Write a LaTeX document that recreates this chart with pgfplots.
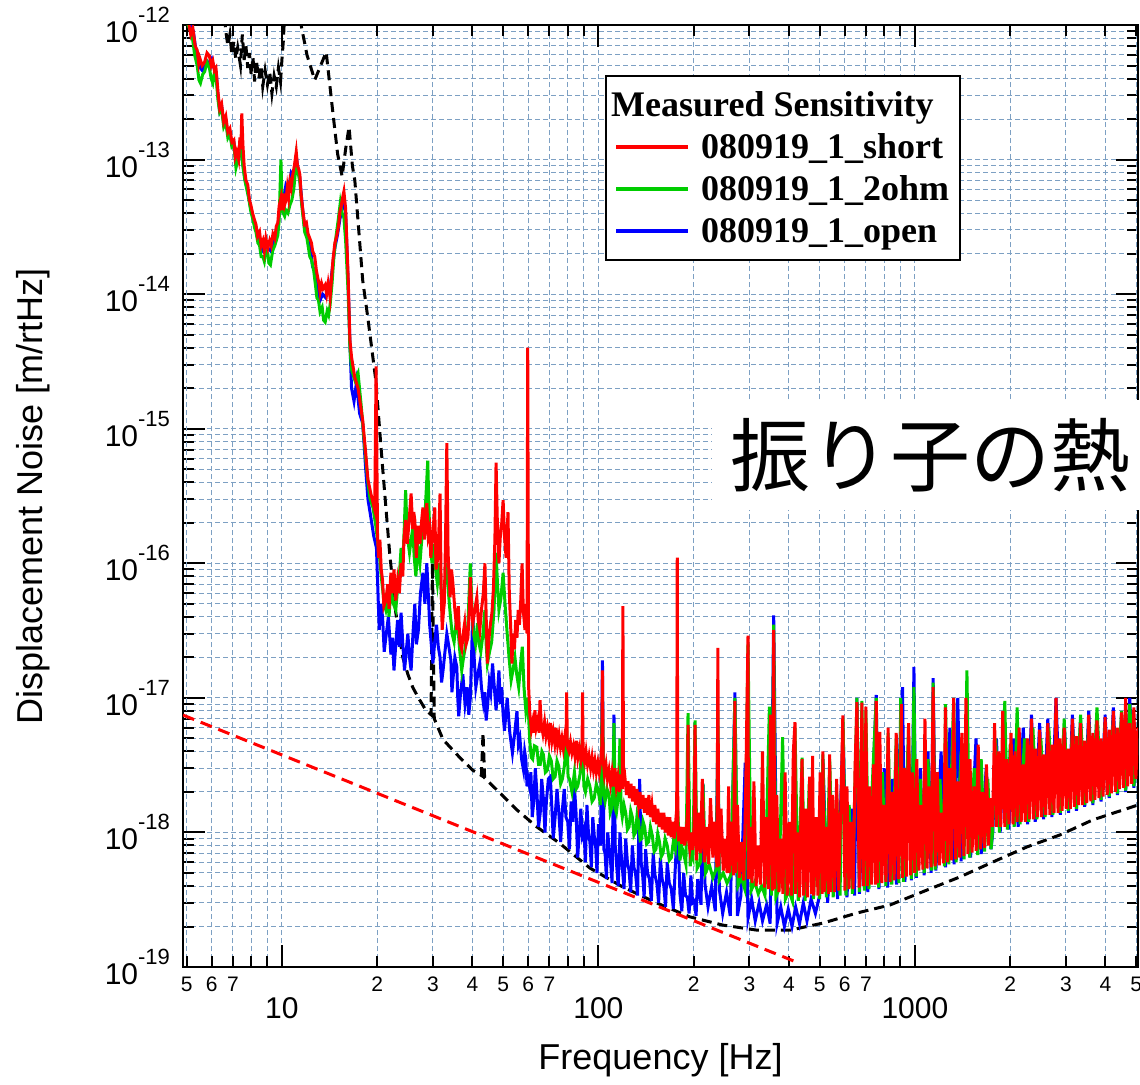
\documentclass[border=0pt]{standalone}
\usepackage{fontspec}
\setmainfont{Liberation Sans}
\newfontfamily\legfont{Liberation Serif}
\newfontfamily\jpfont{Noto Sans CJK JP}
\usepackage{pgfplots}
\pgfplotsset{compat=1.18}
\definecolor{gridc}{RGB}{125,160,195}
\definecolor{mgreen}{RGB}{0,205,0}
\newcommand{\ylab}[1]{10\raisebox{10pt}{\fontsize{11}{11}\selectfont #1}}
\begin{document}
\begin{tikzpicture}
\begin{axis}[
 xmode=log, ymode=log,
 scale only axis, width=477.5pt, height=471pt,
 xmin=4.87, xmax=5070, ymin=1e-19, ymax=1e-12,
 axis line style={line width=1pt},
 tick style={black, line width=1pt},
 major tick length=11pt, minor tick length=5.5pt,
 xtick={10,100,1000}, xticklabels={10,100,1000},
 minor xtick={6,7,8,9,20,30,40,50,60,70,80,90,200,300,400,500,600,700,800,900,2000,3000,4000,5000},
 extra x ticks={5,6,7,20,30,40,50,60,70,200,300,400,500,600,700,2000,3000,4000,5000},
 extra x tick labels={5,6,7,2,3,4,5,6,7,2,3,4,5,6,7,2,3,4,5},
 extra x tick style={major tick length=5.5pt, xticklabel style={font=\fontsize{10.5}{10.5}\selectfont, yshift=10.2pt}},
 ytick={1e-19,1e-18,1e-17,1e-16,1e-15,1e-14,1e-13,1e-12},
 yticklabels={\ylab{-19},\ylab{-18},\ylab{-17},\ylab{-16},\ylab{-15},\ylab{-14},\ylab{-13},\ylab{-12}},
 minor ytick={2e-19,3e-19,4e-19,5e-19,6e-19,7e-19,8e-19,9e-19,2e-18,3e-18,4e-18,5e-18,6e-18,7e-18,8e-18,9e-18,2e-17,3e-17,4e-17,5e-17,6e-17,7e-17,8e-17,9e-17,2e-16,3e-16,4e-16,5e-16,6e-16,7e-16,8e-16,9e-16,2e-15,3e-15,4e-15,5e-15,6e-15,7e-15,8e-15,9e-15,2e-14,3e-14,4e-14,5e-14,6e-14,7e-14,8e-14,9e-14,2e-13,3e-13,4e-13,5e-13,6e-13,7e-13,8e-13,9e-13},
 xticklabel style={font=\fontsize{15}{15}\selectfont, yshift=-11.5pt},
 yticklabel style={font=\fontsize{15}{15}\selectfont, xshift=-3pt},
 grid=both,
 major grid style={gridc, line width=0.5pt, dash pattern=on 2.5pt off 1.5pt},
 minor grid style={gridc, line width=0.5pt, dash pattern=on 2.5pt off 1.5pt},
 xlabel={Frequency [Hz]}, ylabel={Displacement Noise [m/rtHz]},
 xlabel style={at={(axis description cs:0.5,-0.0987)}, anchor=center, font=\fontsize{18}{18}\selectfont},
 ylabel style={at={(axis description cs:-0.157,0.5)}, anchor=center, font=\fontsize{18}{18}\selectfont},
 legend image code/.code={\draw[#1] (0pt,0pt) -- (36pt,0pt);},
 legend cell align=left,
 legend style={at={(axis description cs:0.4419,0.9469)}, anchor=north west, draw=black, line width=1.2pt, fill=white, inner xsep=4pt, inner ysep=4pt, row sep=0pt, column sep=4pt, font=\legfont\bfseries\fontsize{18}{18}\selectfont, nodes={inner sep=1.5pt, text height=14.5pt, text depth=3.5pt}},
]
\addlegendimage{empty legend}
\addlegendentry{\makebox[0pt][l]{\hspace*{-45pt}Measured Sensitivity}}
\addlegendimage{red, line width=2pt}
\addlegendentry{080919\_1\_short}
\addlegendimage{mgreen, line width=2pt}
\addlegendentry{080919\_1\_2ohm}
\addlegendimage{blue, line width=2pt}
\addlegendentry{080919\_1\_open}

% black dashed
\addplot[forget plot, black, line width=1.5pt, dash pattern=on 5pt off 3pt] coordinates {
(6.5,1.5e-12) (6.65,9e-13) (6.75,7e-13) (6.85,8.5e-13) (6.95,6.0e-13) (7.05,7.5e-13) (7.15,5.6e-13) (7.25,6.8e-13) (7.4,5.0e-13) (7.5,8.5e-13) (7.6,5.5e-13) (7.7,7.0e-13) (7.8,4.8e-13) (7.9,6.2e-13) (8.0,4.2e-13) (8.1,5.8e-13) (8.2,3.8e-13) (8.3,5.5e-13) (8.45,4.0e-13) (8.6,5.0e-13) (8.7,3.5e-13) (8.85,4.6e-13) (9.0,3.6e-13) (9.15,4.5e-13) (9.3,3.1e-13) (9.45,4.2e-13) (9.6,3.5e-13) (9.75,4.8e-13) (9.9,3.8e-13) (10.0,5.5e-13) (10.1,7.5e-13) (10.25,1.5e-12)
(11.3,1.5e-12) (11.5,1.0e-12) (12.0,6.0e-13) (12.7,3.9e-13) (13.8,6.3e-13) (14.5,2.2e-13) (15.0,1.1e-13) (15.5,7.5e-14) (15.9,1.2e-13) (16.3,1.75e-13) (16.7,9e-14) (17.0,7e-14) (18.0,1.27e-14) (18.7,6.6e-15) (19.8,2.3e-15) (20.8,5.2e-16) (21.9,1.19e-16) (22.9,4.3e-17) (24.1,2.0e-17) (25.0,1.5e-17) (25.9,1.2e-17) (27.0,1.0e-17) (28.5,8.1e-18) (29.6,7.5e-18) (29.9,1.0e-16) (30.3,7.0e-18) (32.3,4.9e-18) (36.5,3.6e-18) (40.1,2.9e-18) (42.7,2.65e-18) (43.2,5.5e-18) (43.7,2.55e-18) (45.4,2.33e-18) (55.3,1.47e-18) (63.9,1.10e-18) (75.5,8.3e-19) (94.0,5.44e-19) (119.5,3.93e-19) (153,2.99e-19) (194.5,2.36e-19) (247,2.05e-19) (317,1.88e-19) (403,1.88e-19) (512,2.12e-19) (656,2.52e-19) (834,2.89e-19) (1091,3.73e-19) (1387,4.67e-19) (1763,6.03e-19) (2258,7.8e-19) (2871,9.58e-19) (3648,1.24e-18) (5070,1.6e-18)
};
% red dashed
\addplot[forget plot, red, line width=1.5pt, dash pattern=on 6pt off 3.5pt] coordinates {(4.87,7.45e-18) (430,1.07e-19)};

% blue
\addplot[forget plot, blue, line width=1.5pt] coordinates {
(4.87,1.3e-12) (5.1,1.05e-12) (5.25,9.0e-13) (5.35,6.5e-13) (5.45,5.5e-13) (5.52,4.8e-13) (5.6,4.6e-13) (5.7,5.0e-13) (5.8,5.4e-13) (5.9,5.2e-13) (6.0,5.6e-13) (6.1,4.8e-13) (6.2,4.5e-13) (6.28,3.0e-13) (6.36,2.3e-13) (6.45,2.5e-13) (6.55,1.85e-13) (6.65,1.95e-13) (6.75,1.55e-13) (6.85,1.6e-13) (6.95,1.3e-13) (7.05,1.35e-13) (7.16,1.0e-13) (7.28,1.1e-13) (7.4,1.2e-13) (7.5,1.0e-13) (7.64,7.2e-14) (7.8,5.8e-14) (7.98,4.3e-14) (8.1,3.7e-14) (8.28,3.1e-14) (8.4,2.6e-14) (8.5,2.5e-14) (8.6,2.2e-14) (8.71,2.1e-14) (8.85,2.3e-14) (9.03,2.2e-14) (9.2,2.1e-14) (9.37,2.4e-14) (9.55,2.7e-14) (9.71,3.2e-14) (9.82,4.0e-14) (9.93,4.8e-14) (10.1,5.0e-14) (10.3,6.5e-14) (10.5,6.0e-14) (10.7,8.0e-14) (10.9,7.5e-14) (11.1,1.05e-13) (11.25,8.5e-14) (11.4,7.2e-14) (11.6,4.5e-14) (11.8,3.1e-14) (12.0,2.7e-14) (12.25,2.3e-14) (12.4,1.9e-14) (12.5,1.6e-14) (12.7,1.5e-14) (12.9,1.3e-14) (13.05,1.0e-14) (13.2,9.0e-15) (13.45,1.0e-14) (13.7,9.5e-15) (13.95,1.05e-14) (14.2,1.1e-14) (14.45,1.6e-14) (14.7,2.2e-14) (15.0,2.8e-14) (15.25,3.6e-14) (15.5,4.4e-14) (15.7,5.0e-14) (15.9,4.0e-14) (16.2,1.2e-14) (16.4,4.4e-15) (16.6,2.0e-15) (16.9,1.6e-15) (17.2,2.2e-15) (17.6,1.3e-15) (18.0,1.1e-15) (18.4,5.0e-16) (18.7,3.0e-16) (19.1,2.2e-16) (19.5,1.6e-16) (19.9,1.3e-16)
(20.3,3.2e-17) (20.55,5.0e-17) (20.8,4.0e-17) (21.05,2.2e-17) (21.3,2.8e-17) (21.7,4.0e-17) (22.1,2.1e-17) (22.35,2.8e-17) (22.6,1.6e-17) (22.9,2.5e-17) (23.2,3.8e-17) (23.5,2.4e-17) (23.8,4.3e-17) (24.1,2.5e-17) (24.4,1.6e-17) (24.7,2.2e-17) (25.0,3.0e-17) (25.3,2.0e-17) (25.6,1.6e-17) (25.95,3.0e-17) (26.3,5.0e-17) (26.6,2.5e-17) (27.0,3.2e-17) (27.4,6.0e-17) (27.9,8.5e-17) (28.3,5.0e-17) (28.7,1.0e-16) (29.0,6.0e-17) (29.3,3.5e-17) (29.65,2.5e-17) (30.0,1.8e-17) (30.4,2.6e-17) (30.8,3.5e-17) (31.2,2.4e-17) (31.6,2.0e-17) (31.95,1.3e-17) (32.3,1.6e-17) (32.75,2.2e-17) (33.2,3.0e-17) (33.7,2.4e-17) (34.2,1.9e-17) (34.45,1.1e-17) (34.7,1.35e-17) (35.2,2.0e-17) (35.7,1.7e-17) (35.95,1.0e-17) (36.2,7.3e-18) (36.7,1.1e-17) (37.3,1.5e-17) (37.9,9.0e-18) (38.5,1.2e-17) (38.95,7.5e-18) (39.4,1.0e-17) (39.75,2.0e-17) (40.1,4.5e-17) (40.5,2.0e-17) (41.0,1.2e-17) (41.6,1.5e-17) (42.2,1.8e-17) (42.7,1.2e-17) (43.3,9.2e-18) (43.75,1.1e-17) (44.2,6.8e-18) (44.7,9.0e-18) (45.2,1.3e-17) (45.7,1.1e-17) (46.3,1.8e-17) (46.9,1.2e-17) (47.5,8.1e-18) (48.0,1.1e-17) (48.5,1.6e-17) (49.0,9.0e-18) (49.5,1.2e-17) (50.0,7.5e-18) (50.5,5.7e-18) (51.0,7.5e-18) (51.5,1.0e-17) (52.5,5.5e-18) (53.5,3.9e-18) (54.4,5.5e-18) (55.3,8.0e-18) (55.9,4.5e-18) (56.5,5.0e-18) (57.2,3.5e-18) (58.0,2.9e-18) (58.5,4.0e-18) (59.0,3.5e-18) (59.5,2.2e-18) (60.0,2.5e-18)
(60.6,2.2e-18) (61.2,2.8e-18) (61.8,1.3e-18) (62.5,1.7e-18) (63.2,3.0e-18) (64,1.9e-18) (64.7,1.1e-18) (65.5,1.4e-18) (66.2,2.5e-18) (67,1.8e-18) (67.8,1.0e-18) (68.5,1.7e-18) (69.5,2.5e-18) (70.5,2.6e-18) (71.3,1.5e-18) (72,9.0e-19) (73,1.3e-18) (74,2.1e-18) (75,1.4e-18) (76,8.5e-19) (77,1.5e-18) (78,2.1e-18) (79,1.3e-18) (80,1.2e-18) (81,7.5e-19) (82,1.7e-18) (83,1.2e-18) (84,2.2e-18) (85,1.4e-18) (86,6.5e-19) (87,1.0e-18) (88,1.5e-18) (89,9.5e-19) (90,1.05e-18) (91,6.0e-19) (92,1.6e-18) (93,1.0e-18) (94,8.5e-19) (95,5.5e-19) (96,1.3e-18) (97,9.5e-19) (98,8.0e-19) (99,5.0e-19) (100,1.15e-18)
(101.5,8.0e-19) (103,1.9e-17) (104,7.5e-19) (105,7.0e-19) (106,4.5e-19) (107,1.0e-18) (108,8.0e-19) (109,6.5e-19) (110.5,4.2e-19) (112,7.5e-18) (113,8.0e-19) (114,6.0e-19) (115.5,4.0e-19) (117,1.0e-18) (118,7.0e-19) (119,5.5e-19) (120.5,3.8e-19) (122,9.0e-19) (123.5,6.0e-19) (125,5.2e-19) (126.5,3.6e-19) (128,8.0e-19) (129.5,5.5e-19) (131,5.0e-19) (133,3.4e-19) (135,2.5e-18) (136.5,6.0e-19) (138,4.8e-19) (139.5,3.3e-19) (141,7.5e-19) (143,5.0e-19) (145,4.5e-19) (147,3.1e-19) (149,7.0e-19) (151,4.8e-19) (153,4.2e-19) (155,3.0e-19) (157,6.5e-19) (159,4.5e-19) (161,4.0e-19) (163,2.8e-19) (165,6.0e-19) (167.5,4.2e-19) (170,3.8e-19) (172.5,2.7e-19) (175,5.5e-19) (178,1.2e-18) (181,3.5e-19) (183.5,2.6e-19) (186,5.0e-19) (188.5,3.4e-19) (191,3.3e-19) (193.5,2.5e-19) (196,4.8e-19) (198.5,3.0e-19) (201,3.1e-19) (203.5,2.4e-19) (206,4.5e-19)
(211,2.9e-19) (214,2.3e-18) (217,4.2e-19) (222,2.8e-19) (228,4.0e-19) (234,2.6e-19) (238.5,5e-18) (241,3.8e-19) (247,2.5e-19) (254,3.6e-19) (261,2.4e-19) (270,1.1e-17) (275,2.4e-19) (282,3.4e-19) (291,3.3e-18) (297,2.3e-19) (305,3.2e-19) (313,2.2e-19) (322,3.0e-19) (330,2.2e-19) (340,2.9e-19) (349,2.1e-19) (358,4.1e-17) (367,2.1e-19) (377,2.8e-19) (387,2.0e-19) (398,2.7e-19) (409,2.0e-19) (420,2.8e-19) (432,2.1e-19) (444,3.0e-19) (456,2.2e-19) (470,3.2e-19) (485,2.5e-19) (500,3.4e-19)
(512,3.5e-18) (530,3.0e-19) (550,1.5e-18) (570,3.2e-19) (593,6.0e-18) (610,3.3e-19) (630,1.5e-18) (645,3.4e-19) (656,1.0e-17) (668,3.5e-19) (690,2.5e-18) (710,3.6e-19) (735,2.0e-18) (755,1.05e-17) (770,3.8e-19) (800,3.0e-18) (820,3.9e-19) (850,2.5e-18) (875,4.1e-19) (895,4.0e-18) (914,1.2e-17) (930,4.3e-19) (960,3.0e-18) (975,4.4e-19) (993,1.7e-17) (1010,4.6e-19) (1040,3.0e-18) (1070,4.8e-19) (1100,4.0e-18) (1125,5.0e-19) (1142,1.4e-17) (1165,5.2e-19) (1210,4.0e-18) (1250,5.5e-19) (1290,6.0e-18) (1330,5.8e-19) (1366,1.0e-17) (1400,6.1e-19) (1450,4.0e-18) (1500,6.5e-19) (1560,5.0e-18) (1620,6.9e-19) (1680,3.0e-18) (1740,7.5e-19) (1762,1.0e-18) (1810,5.0e-18) (1860,1.0e-18) (1920,6.0e-18) (1980,1.05e-18) (2050,5.0e-18) (2120,1.1e-18) (2200,6.0e-18) (2270,1.15e-18) (2335,7.5e-18) (2400,1.2e-18) (2478,6.5e-18) (2550,1.25e-18) (2630,7.0e-18) (2710,1.3e-18) (2792,1.0e-17) (2880,1.35e-18) (2970,6.0e-18) (3060,1.4e-18) (3145,7.5e-18) (3240,1.45e-18) (3338,6.8e-18) (3440,1.55e-18) (3543,8.0e-18) (3650,1.6e-18) (3761,7.5e-18) (3874,1.7e-18) (3991,7.5e-18) (4112,1.8e-18) (4237,8.5e-18) (4365,1.9e-18) (4497,7.5e-18) (4633,2.0e-18) (4773,1.0e-17) (4917,2.15e-18) (5066,5.0e-18)
};

% green
\addplot[forget plot, mgreen, line width=1.5pt] coordinates {
(4.87,1.2e-12) (5.05,1.0e-12) (5.2,8.5e-13) (5.3,6.0e-13) (5.4,5.0e-13) (5.47,3.9e-13) (5.53,3.7e-13) (5.62,4.3e-13) (5.7,4.5e-13) (5.8,5.3e-13) (5.9,4.8e-13) (5.98,4.0e-13) (6.05,3.7e-13) (6.12,4.4e-13) (6.19,4.2e-13) (6.28,2.8e-13) (6.36,2.25e-13) (6.45,2.4e-13) (6.55,1.75e-13) (6.65,1.9e-13) (6.75,1.45e-13) (6.85,1.55e-13) (6.95,1.25e-13) (7.05,1.3e-13) (7.16,8.7e-14) (7.26,1.0e-13) (7.37,1.2e-13) (7.45,1.1e-13) (7.55,8.5e-14) (7.64,7.0e-14) (7.75,6.0e-14) (7.85,5.2e-14) (7.98,4.1e-14) (8.1,3.6e-14) (8.2,3.1e-14) (8.28,2.9e-14) (8.4,2.4e-14) (8.5,2.3e-14) (8.6,1.9e-14) (8.71,1.9e-14) (8.8,1.75e-14) (8.9,2.1e-14) (9.03,2.0e-14) (9.1,1.7e-14) (9.2,1.65e-14) (9.35,2.1e-14) (9.5,2.3e-14) (9.6,2.5e-14) (9.71,2.75e-14) (9.8,3.5e-14) (9.93,1.0e-13) (10.0,5.5e-14) (10.05,4.1e-14) (10.2,3.8e-14) (10.3,4.2e-14) (10.45,4.0e-14) (10.6,4.6e-14) (10.75,5.0e-14) (10.9,6.0e-14) (11.0,7.5e-14) (11.1,1.0e-13) (11.25,8.0e-14) (11.4,6.8e-14) (11.55,4.6e-14) (11.7,3.5e-14) (11.8,2.9e-14) (12.0,2.6e-14) (12.25,1.9e-14) (12.4,1.8e-14) (12.6,1.5e-14) (12.75,1.2e-14) (12.9,9.4e-15) (13.05,9.0e-15) (13.2,7.4e-15) (13.4,8.0e-15) (13.55,6.4e-15) (13.7,6.2e-15) (13.9,7.5e-15) (14.05,7.0e-15) (14.2,8.3e-15) (14.4,1.2e-14) (14.6,1.9e-14) (14.8,2.6e-14) (15.05,3.5e-14) (15.3,4.8e-14) (15.5,4.0e-14) (15.7,3.7e-14) (15.9,2.5e-14) (16.2,1.0e-14) (16.4,4.0e-15) (16.6,2.75e-15) (17.0,2.3e-15) (17.4,2.6e-15) (17.8,1.5e-15) (18.4,6.0e-16) (18.7,4.0e-16) (19.0,3.0e-16) (19.4,2.6e-16) (19.8,1.9e-16)
(20.4,1.06e-16) (20.6,8.0e-17) (20.8,6.5e-17) (21.05,5.0e-17) (21.3,4.5e-17) (21.6,5.5e-17) (21.8,4.0e-17) (22.1,6.5e-17) (22.5,5.0e-17) (22.9,4.5e-17) (23.2,6.5e-17) (23.5,8.0e-17) (23.8,1.3e-16) (24.1,1.0e-16) (24.35,1.8e-16) (24.6,3.5e-16) (24.9,1.6e-16) (25.3,1.2e-16) (25.6,1.5e-16) (25.9,1.8e-16) (26.2,1.1e-16) (26.5,8e-17) (26.9,1.3e-16) (27.3,1.0e-16) (27.6,1.4e-16) (28.0,2.0e-16) (28.4,2.6e-16) (28.9,5.8e-16) (29.15,2.5e-16) (29.4,1.5e-16) (29.8,1.0e-16) (30.2,1.4e-16) (30.6,9.0e-17) (31.0,7e-17) (31.5,1.0e-16) (32.0,5e-17) (32.6,6.5e-17) (33.2,1.0e-16) (33.6,6.0e-17) (34.0,4.3e-17) (34.5,3.0e-17) (35.0,2.6e-17) (35.5,3.6e-17) (36.0,3.3e-17) (36.5,2.2e-17) (37.0,1.6e-17) (37.5,2.0e-17) (38.0,2.4e-17) (38.7,3.5e-17) (39.4,1.0e-16) (39.9,4.5e-17) (40.3,3e-17) (40.9,2.5e-17) (41.5,3.6e-17) (42.0,2.5e-17) (42.5,2.2e-17) (43.2,3.0e-17) (43.8,4.5e-17) (44.2,2.5e-17) (44.6,1.8e-17) (45.3,2.2e-17) (46.0,2.6e-17) (46.8,4.5e-17) (47.5,1.2e-16) (48.0,7.0e-17) (48.5,4.5e-17) (49.2,5.5e-17) (50.0,8.5e-17) (50.7,5.0e-17) (51.5,3.0e-17) (52.2,2.0e-17) (53.0,1.35e-17) (53.7,1.6e-17) (54.5,2.0e-17) (55.2,1.5e-17) (56.0,1.2e-17) (56.8,1.8e-17) (57.5,2.4e-17) (58.2,1.2e-17) (59.0,8e-18) (59.8,1.0e-17)
(60.7,4.8e-18) (61.4,3.6e-18) (62,3.5e-18) (62.8,4.4e-18) (63.9,4.3e-18) (64.7,3.2e-18) (65.5,3.2e-18) (66.3,4.0e-18) (67,3.8e-18) (68,2.8e-18) (69,2.9e-18) (70,3.7e-18) (71,3.4e-18) (72,2.5e-18) (73,2.6e-18) (74,3.4e-18) (75,3.1e-18) (76,2.3e-18) (77,2.5e-18) (78.2,3.2e-18) (79.4,6.0e-18) (80.2,2.6e-18) (81,2.5e-18) (82.5,2.0e-18) (84,2.8e-18) (85,2.1e-18) (86,2.2e-18) (87.5,2.7e-18) (89,5.0e-18) (90,2.2e-18) (91,2.0e-18) (92.5,2.5e-18) (94,2.2e-18) (95.5,1.7e-18) (97,1.8e-18) (98.5,2.3e-18) (100,2.0e-18) (101.5,1.6e-18) (103,1.0e-17) (104,1.9e-18) (105,1.7e-18) (106.5,2.1e-18) (108,1.9e-18) (109,1.4e-18) (110,1.5e-18) (111,1.9e-18) (112,6.5e-18) (113,1.5e-18) (114,1.4e-18) (115.5,1.8e-18) (117,5.0e-18) (118,1.5e-18) (119,1.3e-18) (120.5,1.6e-18) (122,1.4e-18) (123.5,1.05e-18) (125,1.1e-18) (126.5,1.45e-18) (128,1.3e-18) (129.5,9.5e-19) (131,1.0e-18) (132.5,1.35e-18) (134,1.2e-18) (135.5,8.8e-19) (137,9.0e-19) (138.5,1.2e-18) (140,1.1e-18) (142,8.2e-19) (144,8.5e-19) (146,1.1e-18) (148,9.5e-19) (150,7.2e-19) (152,7.5e-19) (154,9.8e-19) (156,8.5e-19) (158,6.6e-19) (160,7.0e-19) (162.5,9.0e-19) (165,8.0e-19) (167.5,6.2e-19) (170,6.5e-19) (172.5,8.5e-19) (175,7.5e-19) (178,1.5e-18) (181,6.2e-19) (183.5,7.8e-19) (186,7.0e-19) (189,5.8e-19) (192,7.7e-18) (195,5.6e-19) (197,7.0e-19) (199,6.5e-19) (202,6.8e-18) (205,5.4e-19)
(210,6.0e-19) (214,2.3e-18) (218,5.0e-19) (224,5.8e-19) (230,4.6e-19) (236,5.4e-19) (238.5,8e-18) (241,4.4e-19) (248,5.0e-19) (255,4.2e-19) (262,4.8e-19) (270,1.0e-17) (276,4.0e-19) (283,4.6e-19) (290,3.8e-19) (297,2.5e-17) (304,3.7e-19) (312,4.3e-19) (320,3.5e-19) (328,4.0e-19) (336,3.4e-19) (347,8.6e-18) (352,3.4e-19) (358,3.5e-17) (364,3.3e-19) (372,3.8e-19) (382,5.1e-18) (390,3.2e-19) (400,3.7e-19) (410,3.1e-19) (418,6.0e-18) (428,3.1e-19) (440,3.6e-18) (450,3.1e-19) (464,2.4e-18) (478,3.2e-19) (490,1.2e-18) (500,3.2e-19) (512,3.8e-18) (525,3.3e-19) (538,3.5e-18) (552,3.3e-19) (566,2.0e-18) (580,3.4e-19) (593,7.0e-18) (606,3.4e-19) (620,1.6e-18) (635,3.5e-19) (656,1.0e-17) (668,3.6e-19) (680,9.5e-18) (692,3.7e-19) (700,8.0e-18) (716,3.8e-19) (735,2.5e-18) (755,1.0e-17) (768,3.9e-19) (790,2.8e-18) (810,4.0e-19) (823,5.5e-18) (845,4.1e-19) (873,5.0e-18) (890,4.2e-19) (902,1.0e-17) (920,4.3e-19) (955,6.0e-18) (975,4.5e-19) (993,1.2e-17) (1010,4.7e-19)
(1040,2.5e-18) (1070,5.0e-19) (1100,3.5e-18) (1130,5.2e-19) (1142,1.3e-17) (1160,5.3e-19) (1200,2.5e-18) (1240,5.6e-19) (1249,9e-18) (1280,5.8e-19) (1326,1.0e-17) (1350,6.0e-19) (1400,4.0e-18) (1430,6.3e-19) (1460,1.6e-17) (1490,6.5e-19) (1540,3.0e-18) (1580,6.8e-19) (1620,3.5e-18) (1660,7.2e-19) (1700,2.5e-18) (1740,7.5e-19) (1759,1.0e-18) (1800,5.0e-18) (1850,1.0e-18) (1924,9.5e-18) (1960,1.05e-18) (2000,4.5e-18) (2060,1.1e-18) (2104,8.5e-18) (2150,1.15e-18) (2220,5.0e-18) (2290,1.2e-18) (2360,6.0e-18) (2430,1.25e-18) (2500,5.0e-18) (2580,1.3e-18) (2650,6.0e-18) (2730,1.35e-18) (2800,5.0e-18) (2880,1.4e-18) (2963,7.0e-18) (3050,1.45e-18) (3150,6.0e-18) (3240,1.5e-18) (3338,7.5e-18) (3440,1.6e-18) (3543,6.5e-18) (3650,1.65e-18) (3761,8.5e-18) (3874,1.75e-18) (3991,6.5e-18) (4112,1.85e-18) (4237,7.0e-18) (4365,1.95e-18) (4497,8.0e-18) (4633,2.05e-18) (4773,9.0e-18) (4917,2.2e-18) (5066,5.0e-18)
};

% red
\addplot[forget plot, red, line width=1.5pt] coordinates {
(4.87,1.3e-12) (5.05,1.1e-12) (5.15,8.5e-13) (5.23,9.5e-13) (5.32,7.0e-13) (5.40,6.5e-13) (5.46,5.2e-13) (5.50,5.7e-13) (5.60,5.0e-13) (5.70,5.3e-13) (5.80,6.2e-13) (5.90,5.9e-13) (5.98,5.0e-13) (6.05,5.4e-13) (6.12,4.6e-13) (6.19,4.8e-13) (6.28,3.2e-13) (6.36,2.4e-13) (6.45,2.6e-13) (6.55,1.9e-13) (6.65,2.1e-13) (6.75,1.6e-13) (6.85,1.7e-13) (6.95,1.35e-13) (7.05,1.4e-13) (7.12,1.05e-13) (7.2,1.15e-13) (7.3,1.0e-13) (7.37,1.46e-13) (7.42,1.2e-13) (7.47,2.2e-13) (7.53,1.3e-13) (7.6,9.0e-14) (7.7,7.0e-14) (7.8,6.5e-14) (7.9,5.0e-14) (7.98,4.6e-14) (8.08,4.0e-14) (8.18,3.6e-14) (8.28,3.3e-14) (8.38,2.7e-14) (8.5,2.9e-14) (8.6,2.3e-14) (8.71,2.5e-14) (8.8,2.1e-14) (8.9,2.6e-14) (9.03,2.2e-14) (9.15,2.5e-14) (9.25,2.3e-14) (9.37,2.8e-14) (9.5,2.6e-14) (9.6,3.2e-14) (9.71,3.4e-14) (9.8,4.5e-14) (9.93,5.2e-14) (10.0,4.2e-14) (10.1,5.6e-14) (10.2,4.6e-14) (10.3,5.0e-14) (10.4,6.2e-14) (10.5,5.2e-14) (10.6,6.8e-14) (10.7,6.2e-14) (10.8,7.5e-14) (10.95,9.0e-14) (11.1,1.14e-13) (11.2,9.0e-14) (11.3,8.5e-14) (11.4,7.7e-14) (11.5,5.5e-14) (11.65,4.2e-14) (11.8,3.3e-14) (11.95,3.4e-14) (12.1,2.8e-14) (12.25,2.6e-14) (12.4,2.4e-14) (12.5,2.1e-14) (12.7,1.9e-14) (12.85,1.5e-14) (13.0,1.3e-14) (13.1,1.2e-14) (13.2,1.04e-14) (13.35,1.2e-14) (13.5,1.1e-14) (13.7,1.17e-14) (13.85,1.0e-14) (14.0,1.2e-14) (14.2,9.4e-15) (14.35,1.3e-14) (14.5,1.8e-14) (14.7,2.4e-14) (14.9,2.7e-14) (15.1,3.2e-14) (15.25,4.1e-14) (15.4,4.5e-14) (15.55,5.2e-14) (15.7,5.8e-14) (15.8,5.0e-14) (15.9,4.3e-14) (16.2,1.3e-14) (16.4,4.6e-15) (16.6,3.4e-15) (17.0,2.4e-15) (17.4,2.0e-15) (18.0,1.16e-15) (18.4,6.6e-16) (18.7,4.2e-16) (19.1,3.3e-16) (19.65,2.5e-16) (19.85,2.9e-15) (20.05,1.6e-16)
(20.2,1.1e-16) (20.4,1.5e-16) (20.6,9.0e-17) (20.8,7.5e-17) (21.0,4.8e-17) (21.3,5.3e-17) (21.6,7.0e-17) (21.8,4.6e-17) (22.1,8.5e-17) (22.4,6.0e-17) (22.6,9.0e-17) (22.9,5.3e-17) (23.2,7.5e-17) (23.5,6.0e-17) (23.8,1.0e-16) (24.1,8.0e-17) (24.3,1.5e-16) (24.6,2.1e-16) (24.9,1.4e-16) (25.2,2.0e-16) (25.6,3.3e-16) (25.9,1.8e-16) (26.1,2.4e-16) (26.3,2.1e-16) (26.6,1.1e-16) (26.9,1.9e-16) (27.3,1.4e-16) (27.6,2.0e-16) (27.9,2.6e-16) (28.2,1.5e-16) (28.5,2.2e-16) (28.7,2.8e-16) (29.0,1.6e-16) (29.3,1.8e-16) (29.55,1.1e-16) (29.8,1.42e-16) (30.1,1.9e-16) (30.4,2.6e-16) (30.7,9.0e-17) (31.1,1.1e-16) (31.35,1.8e-16) (31.6,3.3e-16) (31.85,7.0e-17) (32.1,3.2e-17) (32.35,4.2e-17) (32.6,5.1e-17) (32.9,1.6e-16) (33.2,7.8e-16) (33.5,1.2e-16) (33.75,8.0e-17) (34.0,5.6e-17) (34.35,9.0e-17) (34.7,7.1e-17) (35.2,4.5e-17) (35.7,3.2e-17) (36.1,4.8e-17) (36.5,2.6e-17) (37.0,2.3e-17) (37.4,3.0e-17) (37.8,3.6e-17) (38.2,2.5e-17) (38.7,2.8e-17) (39.1,4.5e-17) (39.4,7.9e-17) (39.75,4.8e-17) (40.1,3.6e-17) (40.7,4.5e-17) (41.3,5.6e-17) (41.7,3.8e-17) (42.2,3.2e-17) (42.7,4.5e-17) (43.3,6.0e-17) (43.8,1.0e-16) (44.2,4.0e-17) (44.6,1.8e-17) (45.0,2.6e-17) (45.5,3.4e-17) (46.1,4.3e-17) (46.6,6.5e-17) (47.1,1.5e-16) (47.5,5.6e-16) (47.9,2.2e-16) (48.5,1.0e-16) (49.0,1.6e-16) (49.5,2.0e-16) (50.0,2.95e-16) (50.5,1.6e-16) (51.1,1.1e-16) (51.5,1.7e-16) (51.8,2.4e-16) (52.3,6.0e-17) (52.8,3.5e-17) (53.3,1.8e-17) (53.8,3.0e-17) (54.3,2.3e-17) (54.8,3.8e-17) (55.3,2.8e-17) (55.8,4.5e-17) (56.3,3.5e-17) (56.9,5.5e-17) (57.4,1.0e-16) (57.9,4.5e-17) (58.6,3.2e-17) (59.1,5.0e-17) (59.5,3.0e-17) (59.8,4.0e-15) (60.2,1.2e-17)
(60.7,7.7e-18) (61.4,5.8e-18) (62.0,6.6e-18) (62.6,5.5e-18) (63.0,8.1e-18) (63.6,6.0e-18) (64.3,6.8e-18) (65.0,5.5e-18) (65.4,9.6e-18) (66.0,6.4e-18) (66.8,5.4e-18) (67.6,6.6e-18) (68.3,5.2e-18) (69.0,6.0e-18) (69.8,4.9e-18) (70.5,6.5e-18) (71.3,4.8e-18) (72.0,5.6e-18) (72.8,4.6e-18) (73.5,6.0e-18) (74.3,4.5e-18) (75.1,5.3e-18) (75.9,4.3e-18) (76.7,5.0e-18) (77.5,4.2e-18) (78.3,5.1e-18) (79.0,4.4e-18) (79.4,1.1e-17) (79.8,4.3e-18) (80.7,4.0e-18) (81.6,4.7e-18) (82.5,3.9e-18) (83.4,4.4e-18) (84.3,3.7e-18) (85.2,4.8e-18) (86.1,3.6e-18) (87.0,4.2e-18) (88.0,3.5e-18) (88.8,4.3e-18) (89.1,1.1e-17) (89.5,3.6e-18) (90.4,3.3e-18) (91.4,4.0e-18) (92.4,3.2e-18) (93.4,3.7e-18) (94.5,3.0e-18) (95.5,3.6e-18) (96.5,2.9e-18) (97.5,3.4e-18) (98.5,2.8e-18) (99.6,3.3e-18) (100.6,2.8e-18) (101.7,3.4e-18) (102.6,4.5e-18) (103,1.6e-17) (103.5,3.5e-18) (104.5,2.7e-18) (105.7,3.2e-18) (106.8,2.5e-18) (108,2.9e-18) (109.2,2.3e-18) (110.4,2.8e-18) (111.6,2.2e-18) (112.8,3.0e-18) (114,2.2e-18) (115.3,2.6e-18) (116.5,2.0e-18) (117.8,2.7e-18) (119,2.1e-18) (119.5,4.8e-17) (120.1,2.2e-18) (121.4,2.5e-18) (122.7,1.9e-18) (124,2.4e-18) (125.4,1.8e-18) (126.8,2.3e-18) (128.2,1.7e-18) (129.6,2.2e-18) (131,1.6e-18) (132.4,2.1e-18) (133.9,1.6e-18) (135.3,2.0e-18) (136.8,1.5e-18) (138.3,1.9e-18) (139.8,1.4e-18) (141.3,1.8e-18) (142.9,1.35e-18) (144.4,1.9e-18) (146,1.3e-18) (147.6,1.6e-18) (149.2,1.2e-18) (150.8,1.6e-18) (152.5,1.15e-18) (154.1,1.5e-18) (155.8,1.1e-18) (157.5,1.4e-18) (159.2,1.05e-18) (161,1.4e-18) (162.7,1.0e-18) (164.5,1.3e-18) (166.3,9.5e-19) (168.1,1.3e-18) (169.9,9.2e-19) (171.8,1.2e-18) (173.6,9.0e-19) (175.5,1.2e-18) (176.8,1.5e-18) (177.5,1.1e-16) (178.2,1.2e-18) (179.4,8.6e-19) (181.4,1.1e-18) (183.4,8.2e-19) (185.4,1.1e-18) (187.4,8.0e-19) (189.5,1.0e-18) (191.5,1.5e-18) (192,6.3e-18) (192.6,9e-19) (194.3,7.6e-19) (196.4,1.0e-18) (198.5,7.4e-19) (200.6,1.1e-18) (202,6.3e-18)
(204,6.2e-19) (207,1.4e-18) (210,7.0e-19) (213,2.5e-18) (216,6.0e-19) (220,1.1e-18) (223,5.8e-19) (226,1.8e-18) (230,6.5e-19) (233,1.2e-18) (237,5.5e-19) (238.5,2.35e-17) (240,5.6e-19) (244,1.5e-18) (248,5.2e-19) (251,9.0e-19) (255,5.0e-19) (258,2.2e-18) (259,5.0e-19) (263,1.2e-18) (267,4.8e-19) (270,9.5e-18) (271,5.0e-19) (275,1.6e-18) (279,4.6e-19) (283,8.5e-19) (288,4.4e-19) (292,2.0e-18) (297,2.9e-17) (298,4.5e-19) (301,1.1e-18) (306,4.2e-19) (310,2.4e-18) (315,4.0e-19) (320,8.0e-19) (325,4.1e-19) (330,4.0e-18) (335,3.9e-19) (340,1.3e-18) (345,3.8e-19) (350,7.5e-18) (355,3.7e-19) (358,3.2e-17) (361,3.8e-19) (366,1.9e-18) (372,3.6e-19) (377,9.0e-19) (383,3.5e-19) (389,2.8e-18) (395,3.4e-19) (401,1.2e-18) (407,3.4e-19) (413,4.0e-18) (418,6.6e-18) (419,3.5e-19) (425,1.0e-18) (432,3.3e-19) (438,2.2e-18) (440,3.5e-18) (445,3.4e-19) (452,1.5e-18) (458,3.3e-19) (465,2.6e-18) (472,3.5e-19) (475,3.7e-18) (479,3.4e-19) (487,1.3e-18) (494,3.4e-19) (502,2.8e-18) (509,3.5e-19) (512,4.0e-18) (517,3.6e-19) (525,1.1e-18) (533,3.5e-19) (538,3.8e-18) (541,3.6e-19) (549,1.9e-18) (557,3.6e-19) (566,2.5e-18) (574,3.7e-19) (583,1.4e-18) (592,7.4e-18) (601,3.7e-19) (610,2.2e-18) (619,3.8e-19) (628,1.2e-18) (638,3.8e-19) (647,3.0e-18) (656,9.3e-18) (667,3.9e-19) (677,2.6e-18) (680,9.2e-18) (687,4.0e-19) (698,3.0e-18) (700,8.6e-18) (708,4.0e-19) (719,2.2e-18) (730,4.1e-19) (741,3.2e-18) (752,4.1e-19) (755,9.5e-18) (763,4.2e-19) (775,5.6e-18) (786,4.2e-19) (798,1.6e-18) (810,4.3e-19) (823,6.0e-18) (835,4.3e-19) (848,2.0e-18) (860,4.4e-19) (873,5.5e-18) (886,4.5e-19) (900,2.4e-18) (906,9.0e-18) (913,4.6e-19) (927,3.0e-18) (941,4.7e-19) (955,6.5e-18) (970,4.8e-19) (984,2.8e-18) (999,5.0e-19)
(1014,3.5e-18) (1029,5.2e-19) (1045,1.6e-18) (1060,5.3e-19) (1076,7.0e-18) (1092,5.4e-19) (1109,2.2e-18) (1125,5.5e-19) (1142,1.2e-17) (1159,5.6e-19) (1177,2.8e-18) (1194,5.7e-19) (1212,1.4e-18) (1231,5.9e-19) (1249,8.5e-18) (1268,6.0e-19) (1287,3.0e-18) (1306,6.2e-19) (1326,1.0e-17) (1346,6.3e-19) (1366,2.4e-18) (1386,6.5e-19) (1407,5.5e-18) (1428,6.7e-19) (1450,1.0e-17) (1471,6.9e-19) (1493,3.5e-18) (1516,7.1e-19) (1539,2.2e-18) (1562,7.3e-19) (1585,4.5e-18) (1609,7.5e-19) (1633,2.0e-18) (1658,7.7e-19) (1683,3.2e-18) (1708,8.0e-19) (1733,1.8e-18) (1759,1.1e-18) (1786,6.5e-18) (1813,1.1e-18) (1840,4.0e-18) (1867,1.1e-18) (1895,8.0e-18) (1924,1.1e-18) (1953,3.5e-18) (1982,1.15e-18) (2012,5.5e-18) (2042,1.15e-18) (2073,4.0e-18) (2104,1.2e-18) (2135,6.0e-18) (2167,1.2e-18) (2200,3.2e-18) (2233,1.2e-18) (2266,5.0e-18) (2300,1.25e-18) (2335,7.0e-18) (2370,1.25e-18) (2405,4.2e-18) (2442,1.3e-18) (2478,5.8e-18) (2515,1.3e-18) (2553,3.8e-18) (2591,1.35e-18) (2630,6.5e-18) (2670,1.35e-18) (2710,4.5e-18) (2751,1.4e-18) (2792,1.0e-17) (2834,1.4e-18) (2876,5.0e-18) (2919,1.45e-18) (2963,6.0e-18) (3008,1.5e-18) (3053,4.2e-18) (3099,1.5e-18) (3145,7.0e-18) (3192,1.55e-18) (3240,5.2e-18) (3289,1.6e-18) (3338,6.5e-18) (3388,1.6e-18) (3439,4.8e-18) (3491,1.65e-18) (3543,7.5e-18) (3596,1.7e-18) (3650,5.5e-18) (3705,1.75e-18) (3761,6.8e-18) (3817,1.8e-18) (3874,5.0e-18) (3932,1.85e-18) (3991,7.2e-18) (4051,1.9e-18) (4112,5.8e-18) (4174,1.95e-18) (4237,8.0e-18) (4300,2.0e-18) (4365,6.0e-18) (4430,2.1e-18) (4497,7.8e-18) (4564,2.15e-18) (4633,1.0e-17) (4702,2.2e-18) (4773,6.5e-18) (4844,2.3e-18) (4917,8.5e-18) (4991,2.5e-18) (5066,6.0e-18)
};
\coordinate (jp) at (axis description cs:0.5539,0.5435);
\end{axis}
\node[fill=white, anchor=west, inner xsep=9pt, minimum height=55pt, font=\jpfont\fontsize{40}{40}\selectfont] at (jp) {振り子の熱};
\pgfresetboundingbox
\useasboundingbox (-91.5pt,-59pt) rectangle (478.5pt,483.5pt);
\end{tikzpicture}
\end{document}
